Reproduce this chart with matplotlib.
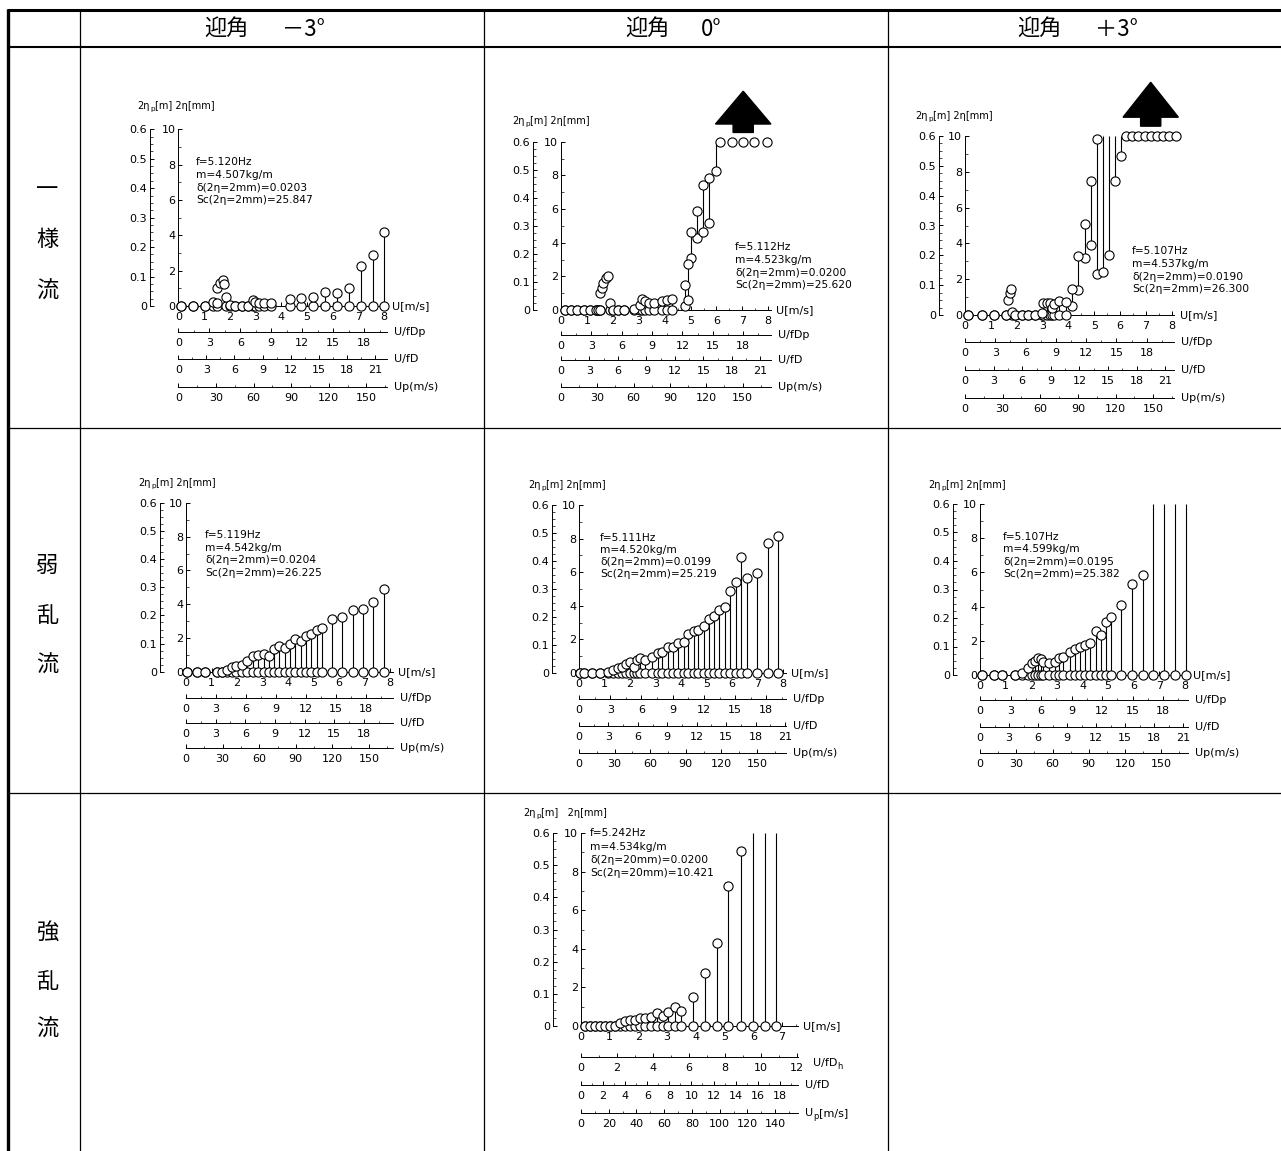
import numpy as np
import matplotlib
matplotlib.use("Agg")
import matplotlib.pyplot as plt
from matplotlib.patches import Polygon
from matplotlib.ticker import MultipleLocator, FuncFormatter

# ---------------------------------------------------------------- data
OFF = np.inf   # amplitude beyond the 10 mm scale: the line runs to the top
N = np.nan     # no lower circle at this wind speed

col_titles = ["迎角", "迎角", "迎角"]
col_angles = ["－3°", "0°", "＋3°"]
row_titles = ["一様流", "弱乱流", "強乱流"]

# 一様流, 迎角 -3°
u_1 = [0.10, 0.58, 1.04, 1.36, 1.49, 1.52, 1.62, 1.72, 1.77, 1.85, 2.00, 2.20, 2.46, 2.72,
       2.92, 3.00, 3.12, 3.33, 3.60, 4.34, 4.76, 5.25, 5.70, 6.16, 6.65, 7.10, 7.59, 8.00]
lo_1 = [0, 0, 0, 0, 0, N, N, N, N, 0, 0, 0, 0, 0,
        0, 0, 0, 0, 0, 0, 0, 0, 0, 0, 0, 0, 0, 0]
hi_1 = [0, 0, 0, 0.25, 0.15, 1.04, 1.30, 1.45, 1.25, 0.50, 0.06, 0, 0, 0,
        0.34, 0.23, 0.15, 0.15, 0.19, 0.38, 0.43, 0.49, 0.77, 0.72, 1.04, 2.26, 2.89, 4.20]

# 一様流, 迎角 0°
u_2 = [0.15, 0.39, 0.63, 0.87, 1.12, 1.35, 1.44, 1.50, 1.52, 1.58, 1.64, 1.73, 1.80,
       1.90, 2.02, 2.21, 2.44, 2.80, 3.05, 3.14, 3.24, 3.40, 3.60, 3.88, 4.08, 4.30,
       4.77, 4.89, 5.02, 5.25, 5.49, 5.71, 5.98, 6.13, 6.59, 7.04, 7.46, 7.94]
lo_2 = [0, 0, 0, 0, 0, 0, 0, 0, N, N, N, N, N,
        0, 0, 0, 0, 0, 0, 0, 0, 0, 0, 0, 0, 0,
        0.24, 0.59, 3.07, 4.26, 4.65, 5.19, 8.26, N, N, N, N, N]
hi_2 = [0, 0, 0, 0, 0, 0, 0, 0, 0.99, 1.29, 1.62, 1.88, 2.02,
        0.40, 0, 0, 0, 0.04, 0.30, 0.63, 0.53, 0.44, 0.44, 0.51, 0.59, 0.63,
        1.49, 2.71, 4.65, 5.90, 7.43, 7.82, OFF, 10, 10, 10, 10, 10]

# 一様流, 迎角 +3°
u_3 = [0.13, 0.65, 1.14, 1.59, 1.68, 1.74, 1.77, 1.81, 1.94, 2.19, 2.45, 2.71, 2.97,
       3.03, 3.16, 3.29, 3.35, 3.45, 3.65, 3.90, 4.13, 4.39, 4.65, 4.88, 5.09,
       5.33, 5.57, 5.80, 6.04, 6.22, 6.46, 6.70, 6.95, 7.19, 7.43, 7.67, 7.91, 8.15]
lo_3 = [0, 0, 0, 0, N, N, N, 0, 0, 0, 0, 0, 0,
        0, 0, 0, 0, 0, 0, 0, 0.48, 1.38, 3.18, 3.93, 2.29,
        2.38, 3.37, 7.47, 8.86, N, N, N, N, N, N, N, N, N]
hi_3 = [0, 0, 0, 0, 0.84, 1.25, 1.43, 0.19, 0, 0, 0, 0, 0.10,
        0.65, 0.65, 0.69, 0.37, 0.60, 0.80, 0.71, 1.47, 3.28, 5.08, 7.47, 9.83,
        OFF, OFF, OFF, OFF, 10, 10, 10, 10, 10, 10, 10, 10, 10]

# 弱乱流, 迎角 -3°
u_4 = [0.03, 0.44, 0.75, 1.20, 1.40, 1.60, 1.79, 1.96, 2.18, 2.40, 2.61, 2.84, 3.06, 3.27, 3.46,
       3.66, 3.88, 4.08, 4.29, 4.51, 4.71, 4.90, 5.12, 5.32, 5.71, 6.13, 6.54, 6.95, 7.35, 7.76]
lo_4 = [0] * 30
hi_4 = [0, 0, 0, 0, 0, 0.10, 0.30, 0.34, 0.40, 0.63, 0.93, 0.99, 1.03, 0.95, 1.33,
        1.52, 1.43, 1.64, 1.94, 1.84, 2.14, 2.22, 2.48, 2.61, 3.11, 3.27, 3.66, 3.70, 4.16, 4.89]

# 弱乱流, 迎角 0°
u_5 = [0.03, 0.21, 0.50, 0.82, 1.15, 1.35, 1.52, 1.67, 1.83, 2.00, 2.17, 2.26, 2.39, 2.59, 2.88,
       3.08, 3.27, 3.48, 3.67, 3.90, 4.10, 4.29, 4.51, 4.68, 4.92, 5.11, 5.31, 5.49, 5.73, 5.92,
       6.16, 6.34, 6.58, 6.97, 7.40, 7.82]
lo_5 = [0] * 36
hi_5 = [0, 0, 0, 0, 0.08, 0.18, 0.28, 0.38, 0.52, 0.67, 0.38, 0.77, 0.87, 0.77, 0.97,
        1.17, 1.23, 1.53, 1.57, 1.77, 1.85, 2.32, 2.50, 2.56, 2.80, 3.19, 3.39, 3.75, 3.91, 4.90,
        5.44, 6.88, 5.63, 5.93, 7.72, 8.15]

# 弱乱流, 迎角 +3°
u_6 = [0.07, 0.56, 0.85, 1.37, 1.63, 1.89, 2.02, 2.15, 2.28, 2.38, 2.47, 2.69, 2.93, 3.08, 3.25,
       3.51, 3.71, 3.90, 4.10, 4.29, 4.51, 4.72, 4.90, 5.11, 5.49, 5.92, 6.35, 6.76, 7.18, 7.61, 8.02]
lo_6 = [0] * 31
hi_6 = [0, 0, 0, 0, 0.10, 0.39, 0.68, 0.82, 0.97, 0.92, 0.78, 0.72, 0.78, 1.01, 1.03,
        1.36, 1.52, 1.66, 1.75, 1.85, 2.57, 2.34, 3.08, 3.37, 4.09, 5.30, 5.85, OFF, OFF, OFF, OFF]

# 強乱流, 迎角 0°
u_7 = [0.15, 0.32, 0.50, 0.67, 0.85, 1.02, 1.19, 1.37, 1.54, 1.71, 1.89, 2.06, 2.23, 2.43,
       2.64, 2.85, 3.04, 3.28, 3.50, 3.89, 4.32, 4.72, 5.13, 5.59, 6.00, 6.40, 6.80]
lo_7 = [0] * 27
hi_7 = [0, 0, 0, 0, 0, 0, 0, 0.17, 0.26, 0.31, 0.31, 0.40, 0.40, 0.48,
        0.66, 0.52, 0.74, 1.00, 0.78, 1.49, 2.73, 4.29, 7.27, 9.05, OFF, OFF, OFF]

# model properties printed in each panel
freq_hz = [5.120, 5.112, 5.107, 5.119, 5.111, 5.107, 5.242]
mass_kgm = [4.507, 4.523, 4.537, 4.542, 4.520, 4.599, 4.534]
damping = [0.0203, 0.0200, 0.0190, 0.0204, 0.0199, 0.0195, 0.0200]
scruton = [25.847, 25.620, 26.300, 26.225, 25.219, 25.382, 10.421]
ref_amp_mm = [2, 2, 2, 2, 2, 2, 20]

# scale factors of the auxiliary axes (per unit U in m/s)
ratio_fdp = [2.49, 2.56, 2.56, 2.55, 2.45, 2.52, 1.594]
ratio_fd = [2.745, 2.73, 2.71, 2.58, 2.60, 2.65, 2.60]
ratio_up = [20.5, 21.4, 20.6, 20.9, 21.5, 21.2, 20.7]
proto_per_model = 0.6 / 10.0   # 2ηp [m] per 2η [mm]

U_ALL = [u_1, u_2, u_3, u_4, u_5, u_6, u_7]
LO_ALL = [lo_1, lo_2, lo_3, lo_4, lo_5, lo_6, lo_7]
HI_ALL = [hi_1, hi_2, hi_3, hi_4, hi_5, hi_6, hi_7]

# ---------------------------------------------------------------- layout (pixels)
W, H = 1281, 1151
LAYOUT = [
    dict(x0=178.3, y0=306, xu=25.71, ymm=17.67, xmax=8.1, outer=150, sec=[331.7, 359, 387],
         head=(137, 106), note=(196, 162, 12.8)),
    dict(x0=561, y0=310, xu=25.91, ymm=16.83, xmax=8.1, outer=533, sec=[335, 360, 387],
         head=(512, 121), note=(735, 247, 12.8)),
    dict(x0=965, y0=315, xu=25.84, ymm=17.9, xmax=8.1, outer=939, sec=[341.7, 370, 398],
         head=(915, 116), note=(1132, 251, 12.8)),
    dict(x0=186, y0=671.7, xu=25.5, ymm=16.87, xmax=8.1, outer=160, sec=[698, 723, 748],
         head=(138, 483), note=(205, 535, 12.6)),
    dict(x0=579, y0=673, xu=25.5, ymm=16.8, xmax=8.1, outer=552, sec=[699, 726, 753],
         head=(528, 485), note=(600, 538, 12.0)),
    dict(x0=980, y0=675, xu=25.63, ymm=17.1, xmax=8.1, outer=953, sec=[700, 727, 753],
         head=(928, 485), note=(1003, 537, 12.4)),
    dict(x0=581, y0=1026, xu=28.71, ymm=19.3, xmax=7.55, outer=553, sec=[1057, 1085, 1113],
         head=(523, 813), note=(590, 833, 13.5)),
]
# label pieces: (text, is_subscript)
SEC_LABELS = ([[[("U/fDp", False)], [("U/fD", False)], [("Up(m/s)", False)]]] * 6
              + [[[("U/fD", False), ("h", True)], [("U/fD", False)],
                  [("U", False), ("p", True), ("[m/s]", False)]]])
SEC_LABEL_SHIFT = [[(7, 0), (7, 0), (7, 0)]] * 6 + [[(15, 6), (7, 0), (7, 0)]]
SEC_STEPS = [[3, 3, 30]] * 6 + [[2, 2, 20]]
HEADERS = ([[("2η", False), ("p", True), ("[m] 2η[mm]", False)]] * 6
           + [[("2η", False), ("p", True), ("[m]   2η[mm]", False)]])
ARROW_PANELS = (1, 2)

CJK = ["Noto Sans CJK JP", "DejaVu Sans"]
plt.rcParams["font.family"] = ["DejaVu Sans"]

fig = plt.figure(figsize=(W / 100, H / 100), dpi=100)
fig.patch.set_facecolor("white")
renderer = fig.canvas.get_renderer()


def fx(x):
    return x / W


def fy(y):
    return 1 - y / H


def rich_text(x, y, parts, size):
    """Write text pieces left to right from pixel (x, y); subscripts are smaller and lowered."""
    cur = x
    for s, sub in parts:
        fs = size * 0.75 if sub else size
        dy = size * 0.42 if sub else 0.0
        t = fig.text(fx(cur), fy(y + dy), s, fontsize=fs, ha="left", va="center")
        cur += t.get_window_extent(renderer).width + 0.6


# ---------------------------------------------------------------- table frame
bg = fig.add_axes([0, 0, 1, 1])
bg.set_xlim(0, W)
bg.set_ylim(H, 0)
bg.axis("off")
frame_kw = dict(color="black", solid_capstyle="butt")
bg.plot([8, 8], [9, H], lw=2.4, **frame_kw)
bg.plot([7, W], [10, 10], lw=2.2, **frame_kw)
bg.plot([8, W], [47, 47], lw=1.5, **frame_kw)
for xc in (80, 484, 888):
    bg.plot([xc, xc], [10, H], lw=0.9, **frame_kw)
for yr in (428, 793):
    bg.plot([8, W], [yr, yr], lw=0.9, **frame_kw)

for x_kan, x_ang, t, a in zip((204, 625, 1017), (282, 701, 1095), col_titles, col_angles):
    fig.text(fx(x_kan), fy(29), t, family=CJK, fontsize=16, ha="left", va="center")
    fig.text(fx(x_ang), fy(29), a, family=CJK, fontsize=16, ha="left", va="center")

row_char_y = [(190, 240, 291), (565, 615, 665), (932, 981, 1029)]
for title, ys in zip(row_titles, row_char_y):
    for ch, yy in zip(title, ys):
        fig.text(fx(47), fy(yy), ch, family=CJK, fontsize=16, ha="center", va="center")

# ---------------------------------------------------------------- panels
int_fmt = FuncFormatter(lambda v, p: f"{v:.0f}")
outer_fmt = FuncFormatter(lambda v, p: "0" if abs(v) < 1e-9 else f"{v:.1f}")
TICK_FS = 8
LW_AX = 0.7


def style_ticks(axis_obj, **kw):
    axis_obj.tick_params(which="major", direction="in", length=3.2, width=LW_AX,
                         labelsize=TICK_FS, **kw)
    axis_obj.tick_params(which="minor", direction="in", length=1.8, width=0.5, **kw)


for k, L in enumerate(LAYOUT):
    wpx = L["xmax"] * L["xu"]
    hpx = 10 * L["ymm"]
    ax = fig.add_axes([fx(L["x0"]), fy(L["y0"]), wpx / W, hpx / H])
    ax.set_xlim(0, L["xmax"])
    ax.set_ylim(0, 10)
    ax.patch.set_visible(False)
    for s in ("top", "right"):
        ax.spines[s].set_visible(False)
    for s in ("left", "bottom"):
        ax.spines[s].set_linewidth(LW_AX)

    ax.xaxis.set_major_locator(MultipleLocator(1))
    ax.xaxis.set_minor_locator(MultipleLocator(0.5))
    ax.xaxis.set_major_formatter(int_fmt)
    ax.yaxis.set_major_locator(MultipleLocator(2))
    ax.yaxis.set_minor_locator(MultipleLocator(1))
    ax.yaxis.set_major_formatter(int_fmt)
    style_ticks(ax)
    ax.tick_params(axis="x", which="major", pad=4.5)
    ax.tick_params(axis="y", which="major", pad=2)

    # amplitude records: circles at the lower and upper value, joined by a line
    u = np.asarray(U_ALL[k], float)
    lo = np.asarray(LO_ALL[k], float)
    hi = np.asarray(HI_ALL[k], float)
    top = np.minimum(hi, 10.0)
    has_lo = np.isfinite(lo)
    ax.vlines(u[has_lo], lo[has_lo], top[has_lo], colors="black", lw=0.8, zorder=2)
    mk = dict(marker="o", ms=6.6, mfc="white", mec="black", mew=0.8, ls="none",
              clip_on=False, zorder=3)
    ax.plot(u[has_lo], lo[has_lo], **mk)
    on_scale = hi <= 10.0
    ax.plot(u[on_scale], hi[on_scale], **mk)

    # outer (prototype) amplitude axis
    sy = ax.secondary_yaxis((L["outer"] - L["x0"]) / wpx,
                            functions=(lambda y: y * proto_per_model, lambda y: y / proto_per_model))
    sy.yaxis.set_major_locator(MultipleLocator(0.1))
    sy.yaxis.set_minor_locator(MultipleLocator(0.025))
    sy.yaxis.set_major_formatter(outer_fmt)
    style_ticks(sy)
    sy.tick_params(axis="y", which="major", pad=2)
    sy.spines["left"].set_linewidth(LW_AX)

    # reduced-velocity and prototype wind-speed axes
    x_end = L["x0"] + wpx
    ratios = [ratio_fdp[k], ratio_fd[k], ratio_up[k]]
    for yline, r, step, lab, (sx_px, sy_px) in zip(L["sec"], ratios, SEC_STEPS[k],
                                                   SEC_LABELS[k], SEC_LABEL_SHIFT[k]):
        loc = (L["y0"] - yline) / hpx
        sx = ax.secondary_xaxis(loc, functions=(lambda x, r=r: x * r, lambda x, r=r: x / r))
        sx.xaxis.set_major_locator(MultipleLocator(step))
        sx.xaxis.set_minor_locator(MultipleLocator(step / 2))
        sx.xaxis.set_major_formatter(int_fmt)
        style_ticks(sx)
        sx.tick_params(axis="x", which="major", pad=4.5)
        sx.spines["bottom"].set_linewidth(LW_AX)
        rich_text(x_end + sx_px, yline + sy_px, lab, 8)
    rich_text(x_end + 5.5, L["y0"], [("U[m/s]", False)], 8)

    # axis heading
    hx, hy = L["head"]
    rich_text(hx, hy, HEADERS[k], 7)

    # model properties
    nx, ny, ndy = L["note"]
    a = ref_amp_mm[k]
    lines = [f"f={freq_hz[k]:.3f}Hz", f"m={mass_kgm[k]:.3f}kg/m",
             f"δ(2η={a}mm)={damping[k]:.4f}", f"Sc(2η={a}mm)={scruton[k]:.3f}"]
    for i, line in enumerate(lines):
        fig.text(fx(nx), fy(ny + i * ndy), line, fontsize=7.7, ha="left", va="center")

    # off-scale indicator above the saturated records
    if k in ARROW_PANELS:
        xc = float(np.mean(u[hi == 10.0]))
        hw, sw = 1.07, 0.39
        shape = [(xc - sw, 10.55), (xc - sw, 11.05), (xc - hw, 11.05), (xc, 13.0),
                 (xc + hw, 11.05), (xc + sw, 11.05), (xc + sw, 10.55)]
        ax.add_patch(Polygon(shape, closed=True, fc="black", ec="black", clip_on=False))

fig.savefig("out.png", dpi=100, facecolor="white")
